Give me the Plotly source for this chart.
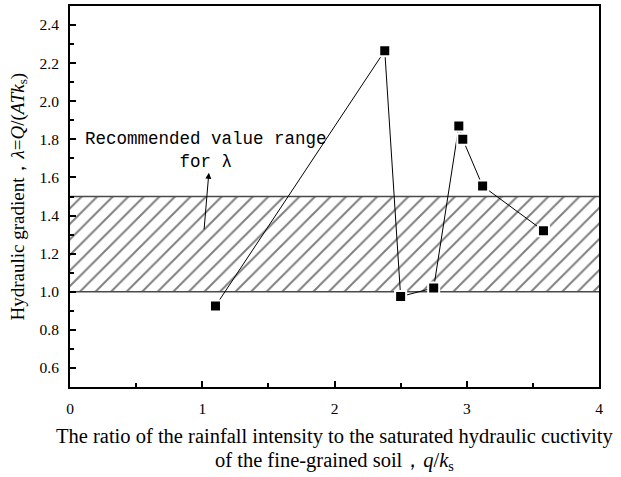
import plotly.graph_objects as go

# Data
ratio_q_ks = [1.10, 2.38, 2.50, 2.75, 2.94, 2.97, 3.12, 3.58]
lambda_vals = [0.925, 2.265, 0.975, 1.02, 1.87, 1.80, 1.555, 1.32]
band_low = 1.0
band_high = 1.5
x_range = [0, 4]
y_range = [0.5, 2.5]
x_ticks = [0, 1, 2, 3, 4]
y_ticks = [0.6, 0.8, 1.0, 1.2, 1.4, 1.6, 1.8, 2.0, 2.2, 2.4]

SERIF = "Liberation Serif"

fig = go.Figure()

# Hatched recommended range
fig.add_trace(go.Scatter(
    x=[x_range[0], x_range[1], x_range[1], x_range[0], x_range[0]],
    y=[band_low, band_low, band_high, band_high, band_low],
    fill="toself", mode="lines",
    line=dict(color="rgba(0,0,0,0)", width=0),
    fillcolor="white",
    fillpattern=dict(shape="/", fgcolor="black", bgcolor="white", size=11, solidity=0.18),
    hoverinfo="skip", showlegend=False,
))
# Band boundary lines
for yv in (band_low, band_high):
    fig.add_trace(go.Scatter(
        x=x_range, y=[yv, yv], mode="lines",
        line=dict(color="#4a4a4a", width=1.5),
        hoverinfo="skip", showlegend=False,
    ))

# Data series
fig.add_trace(go.Scatter(
    x=ratio_q_ks, y=lambda_vals, mode="lines+markers",
    line=dict(color="black", width=1),
    marker=dict(symbol="square", size=11, color="black", line=dict(color="white", width=2)),
    showlegend=False,
))

axis_common = dict(
    showgrid=False, zeroline=False,
    showline=True, linecolor="black", linewidth=2, mirror=True,
    ticks="inside", ticklen=6, tickwidth=1.5, tickcolor="black",
    tickfont=dict(family=SERIF, size=15.5, color="black"),
)

fig.update_xaxes(
    range=x_range, tickvals=x_ticks, ticktext=[str(t) for t in x_ticks],
    minor=dict(ticks="inside", ticklen=4, tickwidth=1.5, tickcolor="black", dtick=0.5, tick0=0),
    ticklabelstandoff=6,
    **axis_common,
)
fig.update_yaxes(
    range=y_range, tickvals=y_ticks, ticktext=[f"{t:.1f}" for t in y_ticks],
    minor=dict(ticks="inside", ticklen=4, tickwidth=1.5, tickcolor="black", dtick=0.1, tick0=0.5),
    ticklabelstandoff=6,
    **axis_common,
)

annotations = [
    dict(text="Recommended value range<br>for λ", x=1.03, y=1.74, xref="x", yref="y",
         showarrow=False, align="center",
         font=dict(family="Liberation Mono", size=17.5, color="black")),
    dict(x=1.05, y=1.625, ax=1.013, ay=1.32, xref="x", yref="y", axref="x", ayref="y",
         text="", showarrow=True, arrowhead=2, arrowsize=1.2, arrowwidth=1, arrowcolor="black"),
    dict(text="Hydraulic gradient，<i>λ</i>=<i>Q</i>/(<i>ATk</i><sub>s</sub>)",
         x=0, y=0.5, xref="paper", yref="paper", xanchor="center", yanchor="middle",
         xshift=-52, textangle=-90, showarrow=False,
         font=dict(family=SERIF, size=19, color="black")),
    dict(text="The ratio of the rainfall intensity to the saturated hydraulic cuctivity",
         x=0.5, y=0, xref="paper", yref="paper", xanchor="center", yanchor="middle",
         yshift=-49, showarrow=False,
         font=dict(family=SERIF, size=20.5, color="black")),
    dict(text="of the fine-grained soil，<i>q</i>/<i>k</i><sub>s</sub>",
         x=0.5, y=0, xref="paper", yref="paper", xanchor="center", yanchor="middle",
         yshift=-74, showarrow=False,
         font=dict(family=SERIF, size=20.5, color="black")),
]

fig.update_layout(
    width=621, height=477,
    margin=dict(l=70, r=22, t=4, b=90),
    paper_bgcolor="white", plot_bgcolor="white",
    font=dict(family=SERIF, color="black"),
    annotations=annotations,
)

fig.write_html("out.html")
